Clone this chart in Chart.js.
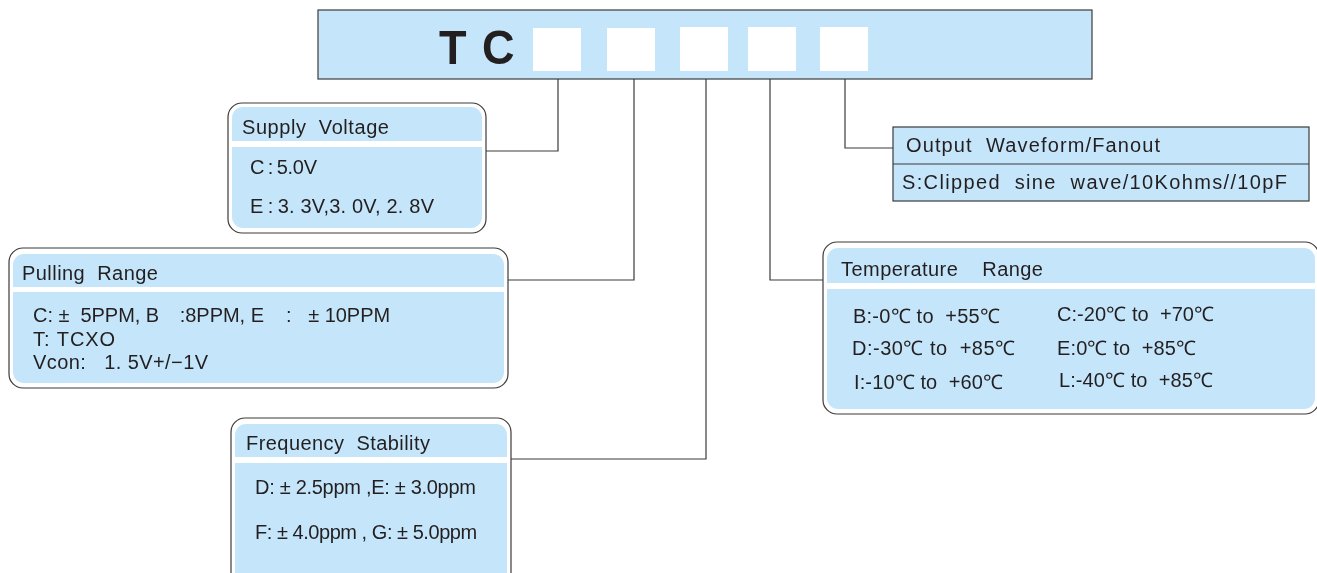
<!DOCTYPE html>
<html>
<head>
<meta charset="utf-8">
<script src="https://cdn.jsdelivr.net/npm/chart.js@4"></script>
<style>
  html, body { margin: 0; padding: 0; background: #fff; }
  #wrap { width: 1317px; height: 573px; }
</style>
</head>
<body>
<div id="wrap"><canvas id="myChart" width="1317" height="573"></canvas></div>
<script>
// part number code and the option texts
const codeLetters = ['T', 'C'];
const sectionTitles = ['Supply  Voltage', 'Pulling  Range', 'Frequency  Stability', 'Temperature    Range', 'Output  Waveform/Fanout'];
const supplyOptions = ['C\u2009:\u20095.0V', 'E\u2009:\u20093. 3V,3. 0V, 2. 8V'];
const pullingOptions = ['C: \u00b1  5PPM, B   \u2009:8PPM, E    :   \u00b1 10PPM', 'T: TCXO', 'Vcon:   1. 5V+/\u22121V'];
const stabilityOptions = ['D: \u00b1 2.5ppm ,E: \u00b1 3.0ppm', 'F: \u00b1 4.0ppm , G: \u00b1 5.0ppm'];
const temperatureOptions = ['B:-0\u2103 to  +55\u2103', 'C:-20\u2103 to  +70\u2103',
                            'D:-30\u2103 to  +85\u2103', 'E:0\u2103 to  +85\u2103',
                            'I:-10\u2103 to  +60\u2103', 'L:-40\u2103 to  +85\u2103'];
const outputOptions = ['S:Clipped  sine  wave/10Kohms//10pF'];

// layout (diagram coordinates, same units as the hidden axes); w = text run width
const layout = {
  top: { x1: 318, y1: 10, x2: 1092, y2: 79 },
  slots: [[533, 581], [607, 655], [680, 728], [748, 796], [820, 868]],
  letters: [{ x: 439, y: 64 }, { x: 482, y: 64 }],
  boxes: [
    { x1: 228, y1: 103, x2: 486, y2: 233, head: [107, 141], body: 147,
      title: { x: 242, y: 134, w: 147 },
      lines: [{ x: 250, y: 174, w: 67 }, { x: 250, y: 213, w: 184 }] },
    { x1: 9, y1: 248, x2: 508, y2: 388, head: [254, 287], body: 292,
      title: { x: 22, y: 280, w: 136 },
      lines: [{ x: 33, y: 322, w: 357 }, { x: 33, y: 346, w: 82 }, { x: 33, y: 369, w: 175 }] },
    { x1: 231, y1: 418, x2: 511, y2: 600, head: [424, 457], body: 463,
      title: { x: 246, y: 450, w: 184 },
      lines: [{ x: 255, y: 494, w: 221 }, { x: 255, y: 539, w: 222 }] },
    { x1: 823, y1: 242, x2: 1319, y2: 414, head: [248, 283], body: 289,
      title: { x: 841, y: 276, w: 202 },
      lines: [{ x: 853, y: 323, w: 147 }, { x: 1057, y: 321, w: 157 },
              { x: 852, y: 355, w: 163 }, { x: 1057, y: 355, w: 139 },
              { x: 854, y: 389, w: 149 }, { x: 1059, y: 387, w: 154 }] }
  ],
  output: { x1: 893, y1: 127, x2: 1309, y2: 201, sep: 164,
            title: { x: 906, y: 152, w: 254 }, line: { x: 902, y: 189, w: 385 } }
};

const connectors = [
  [[558, 79], [558, 151], [486, 151]],
  [[634, 79], [634, 280], [508, 280]],
  [[706, 79], [706, 459], [511, 459]],
  [[770, 79], [770, 280], [823, 280]],
  [[845, 79], [845, 148], [893, 148]]
];

const BLUE = '#c5e6fa';
const INK = '#231f20';
const EDGE = '#3b3b3b';
const FONT = '20px "Liberation Sans", Arial, sans-serif';

// draw a text run stretched by letter spacing to the width seen in the picture
function fitText(ctx, txt, x, y, w) {
  ctx.letterSpacing = '0px';
  const n = Array.from(txt).length;
  const w0 = ctx.measureText(txt).width;
  if (n > 1) ctx.letterSpacing = ((w - w0) / (n - 1)).toFixed(2) + 'px';
  ctx.fillText(txt, x, y);
  ctx.letterSpacing = '0px';
}

const diagramPlugin = {
  id: 'diagram',
  beforeDatasetsDraw(chart) {
    const ctx = chart.ctx;
    const sx = v => chart.scales.x.getPixelForValue(v);
    const sy = v => chart.scales.y.getPixelForValue(v);
    const sw = (a, b) => sx(b) - sx(a);
    ctx.save();

    // top part-number bar
    const t = layout.top;
    ctx.fillStyle = BLUE;
    ctx.fillRect(sx(t.x1), sy(t.y1), sw(t.x1, t.x2), sy(t.y2) - sy(t.y1));
    ctx.strokeStyle = EDGE;
    ctx.lineWidth = 1.2;
    ctx.strokeRect(sx(t.x1), sy(t.y1), sw(t.x1, t.x2), sy(t.y2) - sy(t.y1));
    ctx.fillStyle = '#fff';
    layout.slots.forEach((s, i) => {
      const top = i < 2 ? 28 : 27;
      ctx.fillRect(sx(s[0]), sy(top), sw(s[0], s[1]), sy(71) - sy(top));
    });
    ctx.fillStyle = INK;
    ctx.font = 'bold 49px "Liberation Sans", Arial, sans-serif';
    codeLetters.forEach((c, i) => {
      const p = layout.letters[i];
      ctx.save();
      ctx.translate(sx(p.x), sy(p.y));
      ctx.scale(0.92, 1);
      ctx.fillText(c, 0, 0);
      ctx.restore();
    });

    // rounded option boxes
    const optionSets = [supplyOptions, pullingOptions, stabilityOptions, temperatureOptions];
    layout.boxes.forEach((b, i) => {
      const x1 = sx(b.x1), x2 = sx(b.x2), y1 = sy(b.y1), y2 = sy(b.y2);
      ctx.fillStyle = '#fff';
      ctx.beginPath();
      ctx.roundRect(x1, y1, x2 - x1, y2 - y1, 14);
      ctx.fill();
      ctx.strokeStyle = EDGE;
      ctx.lineWidth = 1.2;
      ctx.stroke();
      ctx.fillStyle = BLUE;
      ctx.beginPath();
      ctx.roundRect(x1 + 4, sy(b.head[0]), x2 - x1 - 8, sy(b.head[1]) - sy(b.head[0]), [11, 11, 0, 0]);
      ctx.fill();
      ctx.beginPath();
      ctx.roundRect(x1 + 4, sy(b.body), x2 - x1 - 8, y2 - 5 - sy(b.body), [0, 0, 11, 11]);
      ctx.fill();
      ctx.fillStyle = INK;
      ctx.font = FONT;
      fitText(ctx, sectionTitles[i], sx(b.title.x), sy(b.title.y), b.title.w);
      optionSets[i].forEach((txt, j) => {
        const p = b.lines[j];
        fitText(ctx, txt, sx(p.x), sy(p.y), p.w);
      });
    });

    // output waveform table
    const o = layout.output;
    ctx.fillStyle = BLUE;
    ctx.fillRect(sx(o.x1), sy(o.y1), sw(o.x1, o.x2), sy(o.y2) - sy(o.y1));
    ctx.strokeStyle = EDGE;
    ctx.strokeRect(sx(o.x1), sy(o.y1), sw(o.x1, o.x2), sy(o.y2) - sy(o.y1));
    ctx.beginPath();
    ctx.moveTo(sx(o.x1), sy(o.sep));
    ctx.lineTo(sx(o.x2), sy(o.sep));
    ctx.stroke();
    ctx.fillStyle = INK;
    ctx.font = FONT;
    fitText(ctx, sectionTitles[4], sx(o.title.x), sy(o.title.y), o.title.w);
    fitText(ctx, outputOptions[0], sx(o.line.x), sy(o.line.y), o.line.w);

    ctx.restore();
  }
};

new Chart(document.getElementById('myChart'), {
  type: 'scatter',
  data: {
    datasets: connectors.map(c => ({
      data: c.map(p => ({ x: p[0], y: p[1] })),
      showLine: true,
      borderColor: EDGE,
      borderWidth: 1.2,
      pointRadius: 0,
      tension: 0
    }))
  },
  options: {
    responsive: false,
    animation: false,
    devicePixelRatio: 1,
    layout: { padding: 0 },
    plugins: { legend: { display: false }, tooltip: { enabled: false } },
    scales: {
      x: { type: 'linear', min: 0, max: 1317, display: false },
      y: { type: 'linear', min: 0, max: 573, reverse: true, display: false }
    }
  },
  plugins: [diagramPlugin]
});
</script>
</body>
</html>
